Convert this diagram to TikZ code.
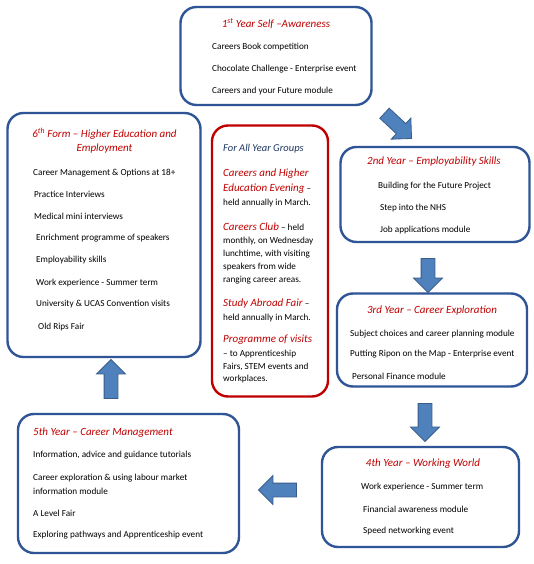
\documentclass[tikz,border=0pt]{standalone}
\usepackage{fontspec}
\setmainfont{Carlito}
\usetikzlibrary{shapes.arrows}
\definecolor{boxblue}{RGB}{47,85,151}
\definecolor{titlered}{RGB}{192,0,0}
\definecolor{darkblue}{RGB}{31,56,100}
\definecolor{arrowfill}{RGB}{79,129,189}
\definecolor{arrowedge}{RGB}{56,93,138}
\begin{document}
\begin{tikzpicture}[x=1pt,y=-1pt,
 card/.style={draw=boxblue, line width=2.4pt, rounded corners=16pt, fill=white, inner sep=0},
 redcard/.style={draw=titlered, line width=2.4pt, rounded corners=16pt, fill=white, inner sep=0},
 ttl/.style={font=\fontsize{11}{13}\selectfont\itshape, text=titlered, inner sep=0},
 ttlw/.style={ttl, anchor=west},
 item/.style={font=\fontsize{9.2}{11}\selectfont, anchor=west, inner sep=0},
 grp/.style={font=\fontsize{10.5}{12}\selectfont\itshape, text=darkblue, anchor=west, inner sep=0},
 blockarrow/.style={single arrow, fill=arrowfill, draw=arrowedge, line width=0.8pt,
   inner sep=6.5pt, single arrow head extend=7.5pt, single arrow tip angle=90, minimum width=28pt}
]
\useasboundingbox[fill=white] (0,0) rectangle (534,564);

% boxes
\node[card, minimum width=191pt, minimum height=98pt] (y1) at (276,56) {};
\node[card, minimum width=193pt, minimum height=244pt] (six) at (104,235) {};
\node[redcard, minimum width=116pt, minimum height=271pt] (all) at (270,261) {};
\node[card, minimum width=189pt, minimum height=95pt] (y2) at (435,194.5) {};
\node[card, minimum width=190pt, minimum height=93pt] (y3) at (432,340) {};
\node[card, minimum width=197pt, minimum height=100pt] (y4) at (420.5,497) {};
\node[card, minimum width=221pt, minimum height=139pt] (y5) at (128.5,483.5) {};

% arrows
\node[blockarrow, minimum height=37pt, rotate=-43] (a12) at (395.5,123.5) {};
\node[blockarrow, minimum height=34pt, shape border rotate=270] (a23) at (428,272) {};
\node[blockarrow, minimum height=38pt, shape border rotate=270] (a34) at (425,419) {};
\node[blockarrow, minimum height=38pt, shape border rotate=180, minimum width=26pt] (a45) at (281,490) {};
\node[blockarrow, minimum height=39pt, shape border rotate=90] (a56) at (111,382.5) {};

% 1st year
\node[ttl] (t1) at (276,24) {1\textsuperscript{st} Year Self –Awareness};
\node[item] (i11) at (212,47) {Careers Book competition};
\node[item] (i12) at (212,69) {Chocolate Challenge - Enterprise event};
\node[item] (i13) at (212,91) {Careers and your Future module};

% 6th form
\node[ttl] (t6a) at (104.5,134) {6\textsuperscript{th} Form – Higher Education and};
\node[ttl] (t6b) at (104.5,149) {Employment};
\node[item] (i61) at (33,173) {Career Management \& Options at 18+};
\node[item] (i62) at (34,194) {Practice Interviews};
\node[item] (i63) at (34,216) {Medical mini interviews};
\node[item] (i64) at (36,238) {Enrichment programme of speakers};
\node[item] (i65) at (36,260) {Employability skills};
\node[item] (i66) at (36,283) {Work experience - Summer term};
\node[item] (i67) at (36,304) {University \& UCAS Convention visits};
\node[item] (i68) at (38,327) {Old Rips Fair};

% all year groups
\node[grp] (g0) at (223,149) {For All Year Groups};
\node[ttlw] (g1a) at (223,174) {Careers and Higher};
\node[ttlw] (g1b) at (223,189) {Education Evening\textcolor{black}{\fontsize{9.2}{11}\selectfont\upshape{} –}};
\node[item] (g1c) at (223,203) {held annually in March.};
\node[ttlw] (g2a) at (223,227) {Careers Club\textcolor{black}{\fontsize{9.2}{11}\selectfont\upshape{} – held}};
\node[item] (g2b) at (223,241) {monthly, on Wednesday};
\node[item] (g2c) at (223,254) {lunchtime, with visiting};
\node[item] (g2d) at (223,267) {speakers from wide};
\node[item] (g2e) at (223,280) {ranging career areas.};
\node[ttlw] (g3a) at (223,304) {Study Abroad Fair\textcolor{black}{\fontsize{9.2}{11}\selectfont\upshape{} –}};
\node[item] (g3b) at (223,318) {held annually in March.};
\node[ttlw] (g4a) at (223,340) {Programme of visits};
\node[item] (g4b) at (223,354) {– to Apprenticeship};
\node[item] (g4c) at (223,367) {Fairs, STEM events and};
\node[item] (g4d) at (223,379) {workplaces.};

% 2nd year
\node[ttl] (t2) at (434,162) {2nd Year – Employability Skills};
\node[item] (i21) at (378,186) {Building for the Future Project};
\node[item] (i22) at (380,208) {Step into the NHS};
\node[item] (i23) at (380,230) {Job applications module};

% 3rd year
\node[ttl] (t3) at (432,311) {3rd Year – Career Exploration};
\node[item] (i31) at (350,334) {Subject choices and career planning module};
\node[item] (i32) at (350,354) {Putting Ripon on the Map - Enterprise event};
\node[item] (i33) at (352,376) {Personal Finance module};

% 4th year
\node[ttl] (t4) at (423,464) {4th Year – Working World};
\node[item] (i41) at (361,487) {Work experience - Summer term};
\node[item] (i42) at (363,509) {Financial awareness module};
\node[item] (i43) at (363,531) {Speed networking event};

% 5th year
\node[ttlw] (t5) at (33,433) {5th Year – Career Management};
\node[item] (i51) at (33,455) {Information, advice and guidance tutorials};
\node[item] (i52) at (33,478) {Career exploration \& using labour market};
\node[item] (i53) at (33,491) {information module};
\node[item] (i54) at (33,513) {A Level Fair};
\node[item] (i55) at (33,535) {Exploring pathways and Apprenticeship event};
\end{tikzpicture}
\end{document}
